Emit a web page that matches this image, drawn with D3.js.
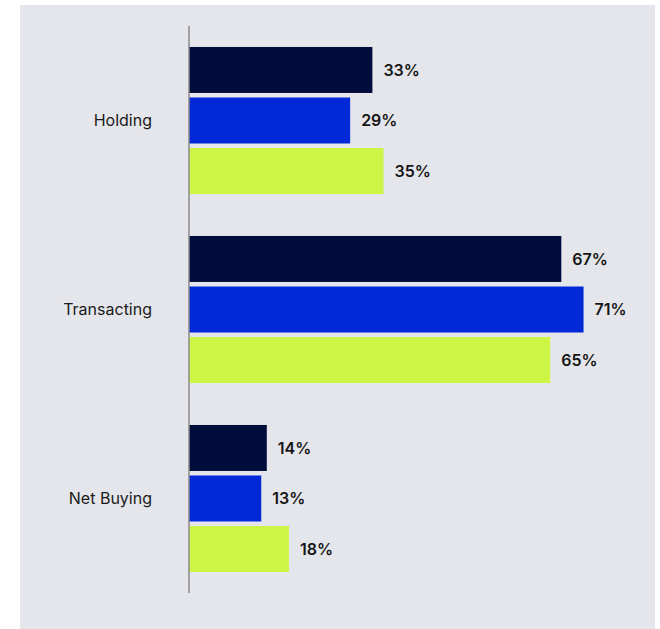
<!DOCTYPE html>
<html>
<head>
<meta charset="utf-8">
<script src="https://cdn.jsdelivr.net/npm/d3@7"></script>
<style>
  html, body { margin: 0; padding: 0; background: #ffffff; }
  svg { display: block; }
</style>
</head>
<body>
<svg id="chart" width="660" height="629"></svg>
<script>
// Categories and the three series (percent)
const categories = ["Holding", "Transacting", "Net Buying"];
const seriesNames = ["s1", "s2", "s3"];
const s1 = [33, 67, 14];
const s2 = [29, 71, 13];
const s3 = [35, 65, 18];
const seriesColors = ["#000c3c", "#0228d8", "#cdf545"];

const rows = categories.map((c, i) => ({
  category: c,
  values: [s1[i], s2[i], s3[i]].map((v, j) => ({ key: seriesNames[j], value: v }))
}));

const svg = d3.select("#chart");

// Panel background
svg.append("rect")
  .attr("x", 20).attr("y", 5)
  .attr("width", 635).attr("height", 624)
  .attr("fill", "#e5e6ec");

const x0 = 189;
const x = d3.scaleLinear().domain([0, 100]).range([x0, x0 + 555.7]);

const y = d3.scaleBand()
  .domain(categories)
  .range([26, 593])
  .paddingInner(0.222)
  .paddingOuter(0.111);

const yInner = d3.scaleBand()
  .domain(seriesNames)
  .range([0, y.bandwidth()])
  .paddingInner(0.09)
  .paddingOuter(0);

const color = d3.scaleOrdinal().domain(seriesNames).range(seriesColors);

const groups = svg.append("g")
  .selectAll("g")
  .data(rows)
  .join("g")
  .attr("transform", d => `translate(0,${y(d.category)})`);

groups.selectAll("rect")
  .data(d => d.values)
  .join("rect")
  .attr("x", x(0))
  .attr("y", d => yInner(d.key))
  .attr("width", d => x(d.value) - x(0))
  .attr("height", yInner.bandwidth())
  .attr("fill", d => color(d.key));

groups.selectAll("text.value")
  .data(d => d.values)
  .join("text")
  .attr("class", "value")
  .attr("x", d => x(d.value) + 11)
  .attr("y", d => yInner(d.key) + yInner.bandwidth() / 2)
  .attr("dy", "0.35em")
  .attr("font-family", "Inter, 'Noto Sans', sans-serif")
  .attr("font-size", 16)
  .attr("font-weight", 600)
  .attr("fill", "#151515")
  .text(d => d.value + "%");

// Category axis (left), line only with labels
const yAxis = d3.axisLeft(y).tickSize(0).tickPadding(37);
const axisG = svg.append("g")
  .attr("transform", `translate(${x0},0)`)
  .call(yAxis);
axisG.select(".domain")
  .attr("d", `M0,26V593`)
  .attr("stroke", "#8a8a8a")
  .attr("stroke-width", 1.5);
axisG.selectAll(".tick text")
  .attr("font-family", "Inter, 'Noto Sans', sans-serif")
  .attr("font-size", 16)
  .attr("fill", "#1a1a1a");
</script>
</body>
</html>
